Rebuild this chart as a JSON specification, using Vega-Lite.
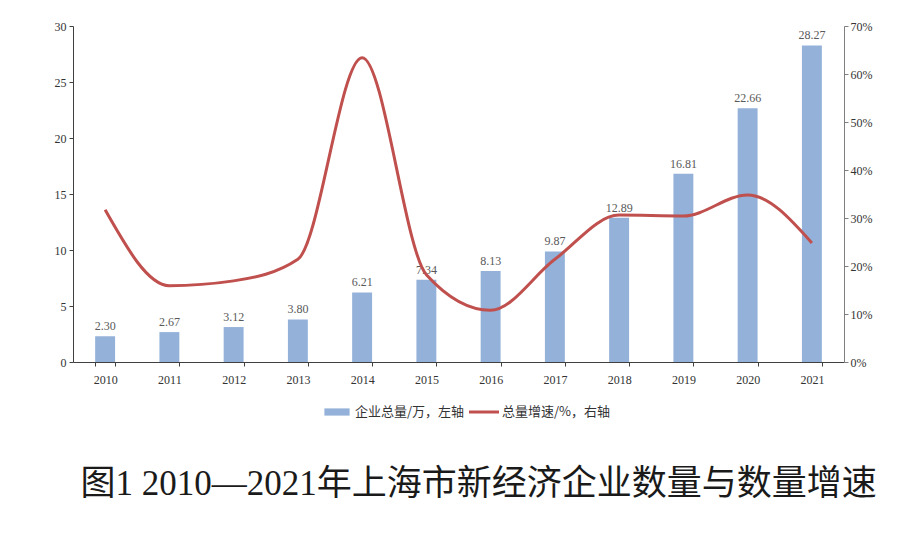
{
  "$schema": "https://vega.github.io/schema/vega-lite/v6.json",
  "width": 771,
  "height": 336,
  "autosize": {"type": "none"},
  "padding": {"left": 73, "top": 26, "right": 56, "bottom": 190},
  "background": "white",
  "config": {
    "view": {"stroke": null},
    "font": "Liberation Serif",
    "axis": {"labelFont": "Liberation Serif", "labelFontSize": 12, "labelColor": "#333333", "domainColor": "#404040", "tickColor": "#404040", "grid": false, "tickSize": 4}
  },
  "title": {
    "text": "图1 2010—2021年上海市新经济企业数量与数量增速",
    "orient": "bottom",
    "anchor": "middle",
    "font": "Liberation Serif, Noto Sans CJK SC",
    "fontSize": 35,
    "fontWeight": "normal",
    "color": "#1a1a1a",
    "offset": 48,
    "dx": 20
  },
  "data": {
    "values": [
      {"year": "2010", "total": 2.30, "growth": 0.317},
      {"year": "2011", "total": 2.67, "growth": 0.159},
      {"year": "2012", "total": 3.12, "growth": 0.169},
      {"year": "2013", "total": 3.80, "growth": 0.214},
      {"year": "2014", "total": 6.21, "growth": 0.634},
      {"year": "2015", "total": 7.34, "growth": 0.182},
      {"year": "2016", "total": 8.13, "growth": 0.108},
      {"year": "2017", "total": 9.87, "growth": 0.214},
      {"year": "2018", "total": 12.89, "growth": 0.306},
      {"year": "2019", "total": 16.81, "growth": 0.304},
      {"year": "2020", "total": 22.66, "growth": 0.348},
      {"year": "2021", "total": 28.27, "growth": 0.248}
    ]
  },
  "encoding": {
    "x": {
      "field": "year", "type": "ordinal",
      "scale": {"paddingInner": 0.69, "paddingOuter": 0.345},
      "axis": {"title": null, "labelAngle": 0, "tickBand": "extent", "labelPadding": 8}
    }
  },
  "layer": [
    {
      "mark": {"type": "bar", "color": "#93B1D9"},
      "encoding": {
        "y": {"field": "total", "type": "quantitative", "scale": {"domain": [0, 30]},
          "axis": {"title": null, "values": [0, 5, 10, 15, 20, 25, 30], "labelPadding": 3}}
      }
    },
    {
      "mark": {"type": "text", "dy": -10, "font": "Liberation Serif", "fontSize": 12, "color": "#595959"},
      "encoding": {
        "y": {"field": "total", "type": "quantitative", "scale": {"domain": [0, 30]}, "axis": null},
        "text": {"field": "total", "type": "quantitative", "format": ".2f"}
      }
    },
    {
      "mark": {"type": "line", "color": "#C0504D", "strokeWidth": 3, "interpolate": "monotone"},
      "encoding": {
        "y": {"field": "growth", "type": "quantitative", "scale": {"domain": [0, 0.7]},
          "axis": {"title": null, "orient": "right", "format": ".0%", "values": [0, 0.1, 0.2, 0.3, 0.4, 0.5, 0.6, 0.7], "domainColor": "#808080", "tickColor": "#808080", "labelPadding": 2}}
      }
    },
    {
      "data": {"values": [{"series": "企业总量/万，左轴"}, {"series": "总量增速/%，右轴"}]},
      "mark": {"type": "point", "opacity": 0, "filled": true, "size": 900},
      "encoding": {
        "x": {"value": 0},
        "y": {"value": 0},
        "color": {"field": "series", "type": "nominal",
          "scale": {"domain": ["企业总量/万，左轴", "总量增速/%，右轴"], "range": ["#93B1D9", "#C0504D"]},
          "legend": {"title": null, "orient": "none", "direction": "horizontal", "legendX": 249, "legendY": 371,
            "labelFont": "Noto Sans CJK SC", "labelFontSize": 13, "labelColor": "#333333",
            "symbolSize": 900, "symbolOpacity": 1, "symbolStrokeWidth": 0, "columnPadding": 4, "labelOffset": 3}},
        "shape": {"field": "series", "type": "nominal",
          "scale": {"domain": ["企业总量/万，左轴", "总量增速/%，右轴"], "range": ["M-0.84,-0.24H0.84V0.24H-0.84Z", "M-1,-0.1H1V0.1H-1Z"]},
          "legend": {"title": null, "orient": "none", "direction": "horizontal", "legendX": 249, "legendY": 371,
            "labelFont": "Noto Sans CJK SC", "labelFontSize": 13, "labelColor": "#333333",
            "symbolSize": 900, "symbolOpacity": 1, "symbolStrokeWidth": 0, "columnPadding": 4, "labelOffset": 3}}
      }
    }
  ],
  "resolve": {"scale": {"y": "independent"}}
}
